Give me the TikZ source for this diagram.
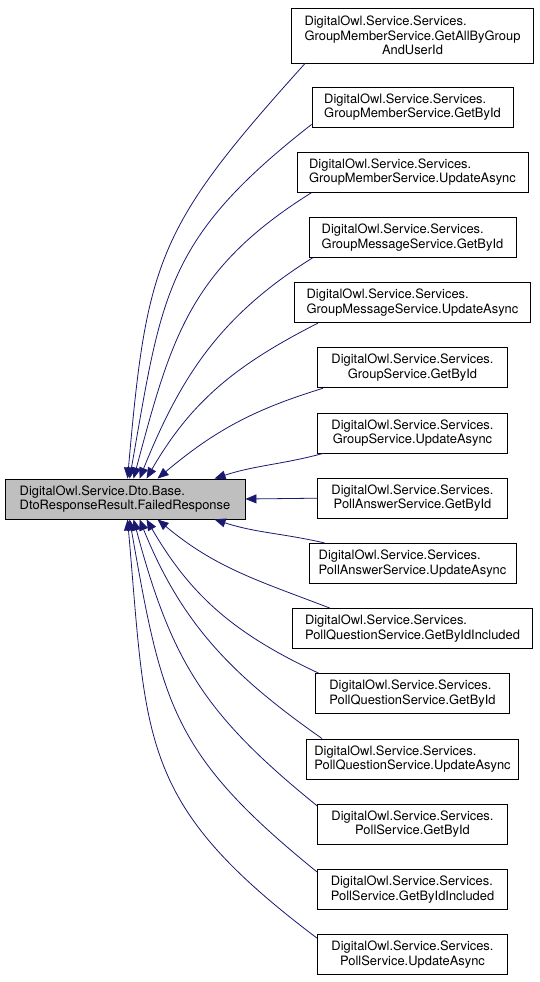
\documentclass[tikz,border=0pt]{standalone}
\usepackage{fontspec}
\setmainfont{TeX Gyre Heros}
\usetikzlibrary{arrows.meta}
\definecolor{edgeblue}{RGB}{25,25,112}
\definecolor{boxgray}{RGB}{191,191,191}
\newsavebox\lpboxa
\newsavebox\lpboxb
\newcommand\lpad[2]{\sbox\lpboxa{#1}\sbox\lpboxb{#2}\ifdim\wd\lpboxa<\wd\lpboxb\makebox[\wd\lpboxb][l]{#1}\else\usebox\lpboxa\fi}
\newcommand\svc[1]{\lpad{DigitalOwl.Service.Services.}{#1}\\#1}
\begin{document}
\begin{tikzpicture}[x=1pt,y=-1pt,
  fn/.style={draw=black, line width=0.9pt, fill=white, align=center,
    minimum height=40pt, inner sep=0pt, font=\fontsize{12.9}{14.5}\selectfont},
  edge/.style={draw=edgeblue, line width=0.8pt, -{Triangle[length=11pt,width=9pt]}}]
\useasboundingbox (0,0) rectangle (539,982);
\node[fn, fill=boxgray, minimum width=240pt] (L) at (125,499)
  {\lpad{DigitalOwl.Service.Dto.Base.}{DtoResponseResult.FailedResponse}\\DtoResponseResult.FailedResponse};
\node[fn, minimum width=242pt, minimum height=55pt] (r1) at (412.5,35.5)
  {\lpad{DigitalOwl.Service.Services.}{GroupMemberService.GetAllByGroup}\\GroupMemberService.GetAllByGroup\\AndUserId};
\node[fn, minimum width=201pt] (r2) at (412.5,107) {\svc{GroupMemberService.GetById}};
\node[fn, minimum width=231pt] (r3) at (412.5,172.2) {\svc{GroupMemberService.UpdateAsync}};
\node[fn, minimum width=207pt] (r4) at (412.5,237.4) {\svc{GroupMessageService.GetById}};
\node[fn, minimum width=236pt] (r5) at (412.5,302.6) {\svc{GroupMessageService.UpdateAsync}};
\node[fn, minimum width=190pt] (r6) at (412.5,367.8) {\svc{GroupService.GetById}};
\node[fn, minimum width=190pt] (r7) at (412.5,433) {\svc{GroupService.UpdateAsync}};
\node[fn, minimum width=190pt] (r8) at (412.5,498.2) {\svc{PollAnswerService.GetById}};
\node[fn, minimum width=207pt] (r9) at (412.5,563.4) {\svc{PollAnswerService.UpdateAsync}};
\node[fn, minimum width=240pt] (r10) at (412.5,628.6) {\svc{PollQuestionService.GetByIdIncluded}};
\node[fn, minimum width=194pt] (r11) at (412.5,693.8) {\svc{PollQuestionService.GetById}};
\node[fn, minimum width=212pt] (r12) at (412.5,759) {\svc{PollQuestionService.UpdateAsync}};
\node[fn, minimum width=190pt] (r13) at (412.5,824.2) {\svc{PollService.GetById}};
\node[fn, minimum width=190pt] (r14) at (412.5,889.4) {\svc{PollService.GetByIdIncluded}};
\node[fn, minimum width=190pt] (r15) at (412.5,954.6) {\svc{PollService.UpdateAsync}};
% edges above
\draw[edge] ([xshift=14pt]r1.south west) to[out=228,in=85,looseness=1.25] ([xshift=123pt]L.north west);
\draw[edge] ([yshift=3pt]r2.south west) to[out=218,in=80,looseness=1.2] ([xshift=125pt]L.north west);
\draw[edge] ([xshift=15pt]r3.south west) to[out=212,in=75,looseness=1.1] ([xshift=129pt]L.north west);
\draw[edge] ([xshift=4pt]r4.south west) to[out=212,in=68] ([xshift=135pt]L.north west);
\draw[edge] ([xshift=24pt]r5.south west) to[out=207,in=60] ([xshift=142pt]L.north west);
\draw[edge] ([xshift=6pt]r6.south west) to[out=197,in=40] ([xshift=153pt]L.north west);
\draw[edge] ([xshift=6pt]r7.south west) to[out=195,in=18] ([xshift=210pt]L.north west);
\draw[edge] (r8.west) -- (L.east);
% edges below
\draw[edge] ([xshift=16pt]r9.north west) to[out=167,in=-18] ([xshift=210pt]L.south west);
\draw[edge] ([xshift=38pt]r10.north west) to[out=159,in=-40] ([xshift=153pt]L.south west);
\draw[edge] ([xshift=4pt]r11.north west) to[out=155,in=-60] ([xshift=142pt]L.south west);
\draw[edge] ([xshift=16pt]r12.north west) to[out=145,in=-68] ([xshift=135pt]L.south west);
\draw[edge] ([yshift=-2pt]r13.north west) to[out=141,in=-75,looseness=1.1] ([xshift=129pt]L.south west);
\draw[edge] ([yshift=-3pt]r14.north west) to[out=141,in=-80,looseness=1.2] ([xshift=125pt]L.south west);
\draw[edge] ([yshift=-4pt]r15.north west) to[out=143,in=-85,looseness=1.25] ([xshift=123pt]L.south west);
\end{tikzpicture}
\end{document}
